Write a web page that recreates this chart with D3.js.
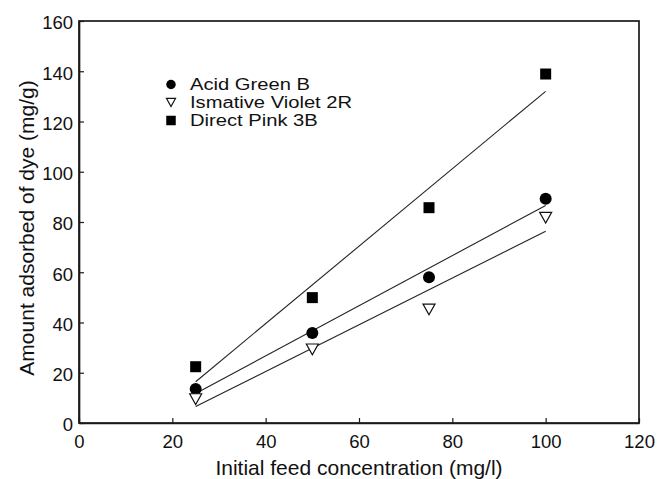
<!DOCTYPE html>
<html><head><meta charset="utf-8">
<script src="https://cdn.jsdelivr.net/npm/d3@7"></script>
<style>body{margin:0;background:#fff}svg{display:block}text{font-family:"Liberation Sans",Arial,sans-serif;fill:#111}</style>
</head><body><svg id="c" width="657" height="479"></svg>
<script>
const concentrations = [25, 50, 75, 100];
const acidGreenB = [13.5, 35.8, 58.0, 89.3];
const ismativeViolet2R = [9.5, 29.3, 45.2, 81.7];
const directPink3B = [22.4, 49.9, 85.7, 138.9];
const seriesNames = ["Acid Green B", "Ismative Violet 2R", "Direct Pink 3B"];
const xTicks = [0, 20, 40, 60, 80, 100, 120];
const yTicks = [0, 20, 40, 60, 80, 100, 120, 140, 160];

const series = [
  {name: seriesNames[0], values: acidGreenB, shape: "circle"},
  {name: seriesNames[1], values: ismativeViolet2R, shape: "triangle"},
  {name: seriesNames[2], values: directPink3B, shape: "square"}
];

const W = 657, H = 479;
const m = {left: 79, top: 21, right: 18, bottom: 56};
const svg = d3.select("#c");
const x = d3.scaleLinear().domain([0, 120]).range([m.left, W - m.right]);
const y = d3.scaleLinear().domain([0, 160]).range([H - m.bottom, m.top]);
const ink = "#1a1a1a";

svg.append("rect").attr("x", x(0)).attr("y", y(160)).attr("width", x(120) - x(0)).attr("height", y(0) - y(160))
  .attr("fill", "none").attr("stroke", ink).attr("stroke-width", 1.7);

const xa = svg.append("g").attr("transform", `translate(0,${y(0)})`)
  .call(d3.axisBottom(x).tickValues(xTicks).tickSizeInner(-5).tickSizeOuter(0).tickPadding(12));
const ya = svg.append("g").attr("transform", `translate(${x(0)},0)`)
  .call(d3.axisLeft(y).tickValues(yTicks).tickSizeInner(-5).tickSizeOuter(0).tickPadding(6));
[xa, ya].forEach(g => {
  g.select(".domain").attr("stroke", ink).attr("stroke-width", 1.7);
  g.selectAll(".tick line").attr("stroke", ink).attr("stroke-width", 1.2);
  g.selectAll(".tick text").attr("font-size", 18.5).attr("font-family", '"Liberation Sans",Arial,sans-serif').attr("fill", "#111");
});
ya.selectAll(".tick text").attr("dy", "0.42em");

svg.append("text").attr("x", (x(0) + x(120)) / 2).attr("y", 474.5).attr("text-anchor", "middle")
  .attr("font-size", 21).text("Initial feed concentration (mg/l)");
svg.append("text").attr("transform", `translate(33.5,228) rotate(-90)`).attr("text-anchor", "middle")
  .attr("font-size", 21).text("Amount adsorbed of dye (mg/g)");

function fit(xs, ys) {
  const mx = d3.mean(xs), my = d3.mean(ys);
  const b = d3.sum(xs.map((v, i) => (v - mx) * (ys[i] - my))) / d3.sum(xs.map(v => (v - mx) ** 2));
  return {a: my - b * mx, b};
}
const lineG = svg.append("g");
series.forEach(s => {
  const f = fit(concentrations, s.values);
  const x0 = d3.min(concentrations), x1 = d3.max(concentrations);
  lineG.append("line").attr("x1", x(x0)).attr("y1", y(f.a + f.b * x0)).attr("x2", x(x1)).attr("y2", y(f.a + f.b * x1))
    .attr("stroke", "#222").attr("stroke-width", 1.1);
});

function drawMarker(g, shape, cx, cy, size) {
  if (shape === "circle") {
    g.append("circle").attr("cx", cx).attr("cy", cy).attr("r", size / 2).attr("fill", "#000");
  } else if (shape === "square") {
    g.append("rect").attr("x", cx - size / 2).attr("y", cy - size / 2).attr("width", size).attr("height", size).attr("fill", "#000");
  } else {
    const h = size * 0.9, w = size;
    g.append("path").attr("d", `M${cx - w / 2},${cy - h / 2}L${cx + w / 2},${cy - h / 2}L${cx},${cy + h / 2}Z`)
      .attr("fill", "#fff").attr("stroke", "#111").attr("stroke-width", 1.2);
  }
}
const ptG = svg.append("g");
series.forEach(s => {
  s.values.forEach((v, i) => drawMarker(ptG, s.shape, x(concentrations[i]), y(v), s.shape === "square" ? 11 : 12));
});

// legend
const lg = svg.append("g");
const rowY = i => 84.5 + i * 18;
series.forEach((s, i) => {
  drawMarker(lg, s.shape, 171, rowY(i), s.shape === "triangle" ? 9 : 9.5);
  const t = lg.append("text").attr("x", 190).attr("y", rowY(i)).attr("dy", "0.36em").attr("font-size", 16).text(s.name);
  const len = t.node().getComputedTextLength();
  t.attr("textLength", len * 1.26).attr("lengthAdjust", "spacingAndGlyphs");
});
</script></body></html>
